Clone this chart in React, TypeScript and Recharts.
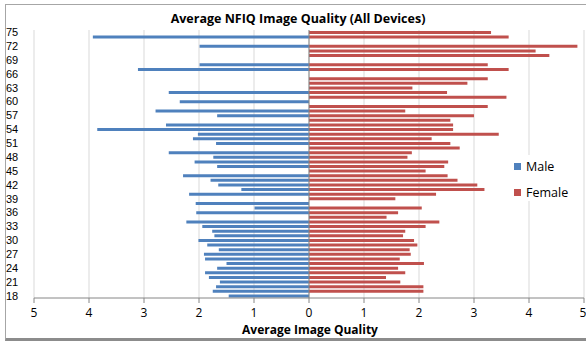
import { BarChart, Bar, XAxis, YAxis, CartesianGrid, ReferenceLine } from "recharts";

// ages 18..75, bottom to top
const AGES = Array.from({ length: 58 }, (_, i) => 18 + i);

const MALE: (number | null)[] = [
  1.46, 1.75, 1.69, 1.62, 1.82, 1.89, 1.67, 1.5, 1.89, 1.91, // 18-27
  1.64, 1.85, 2.01, 1.72, 1.76, 1.94, 2.23, null, 2.05, 0.99, // 28-37
  2.06, null, 2.18, 1.23, 1.65, 1.79, 2.29, null, 1.67, 2.08, // 38-47
  1.74, 2.55, null, 1.69, 2.11, 2.02, 3.85, 2.6, null, 1.67, // 48-57
  2.79, null, 2.35, null, 2.55, null, null, null, null, 3.11, // 58-67
  1.99, null, null, null, 1.99, null, 3.93, null, // 68-75
];

const FEMALE: (number | null)[] = [
  null, 2.08, 2.08, 1.66, 1.4, 1.75, 1.62, 2.09, 1.65, 1.85, // 18-27
  1.83, 1.97, 1.91, 1.71, 1.75, 2.12, 2.37, 1.41, 1.62, 2.05, // 28-37
  null, 1.57, 2.31, 3.19, 3.06, 2.7, 2.52, 2.12, 2.46, 2.53, // 38-47
  1.79, 1.87, 2.74, 2.57, 2.23, 3.45, 2.62, 2.62, 2.57, 3.0, // 48-57
  1.75, 3.25, null, 3.59, 2.51, 1.88, 2.88, 3.25, null, 3.63, // 58-67
  3.25, null, 4.37, 4.12, 4.88, null, 3.63, 3.31, // 68-75
];

const X_TICKS = [-5, -4, -3, -2, -1, 0, 1, 2, 3, 4, 5];

const BLUE = "#4f81bd";
const RED = "#c0504d";
const FONT = "'Open Sans', 'Noto Sans', sans-serif";

const data = AGES.map((age, i) => ({
  age,
  male: MALE[i] == null ? null : -(MALE[i] as number),
  female: FEMALE[i],
}));

function AgeTick(props: any) {
  const { y, payload } = props;
  return (
    <text
      x={6}
      y={y}
      dy="0.35em"
      fontSize={11}
      fill="#000"
      fontFamily="'Liberation Sans', Arial, sans-serif"
      textAnchor="start"
    >
      {payload.value}
    </text>
  );
}

export default function App() {
  return (
    <div
      style={{
        position: "absolute",
        left: 0,
        top: 0,
        width: 586,
        height: 341,
        overflow: "hidden",
        background: "#fff",
        fontFamily: FONT,
      }}
    >
      {/* chart frame */}
      <div
        style={{
          position: "absolute",
          left: 5,
          top: 4,
          width: 590,
          height: 333,
          borderTop: "1px solid #a6a6a6",
          borderLeft: "1px solid #a6a6a6",
          borderBottom: "3px solid #8c8c8c",
        }}
      />
      <BarChart
        width={586}
        height={341}
        data={data}
        layout="vertical"
        stackOffset="sign"
        barSize={3}
        margin={{ top: 30, right: 2, bottom: 0, left: 6 }}
      >
        <CartesianGrid horizontal={false} stroke="#d9d9d9" />
        <XAxis
          type="number"
          domain={[-5, 5]}
          ticks={X_TICKS}
          tickFormatter={(v: number) => String(Math.abs(v))}
          stroke="#868686"
          tickSize={5}
          tickMargin={5}
          height={43}
          tick={{ fontSize: 12, fill: "#000", fontFamily: FONT }}
        />
        <YAxis
          type="category"
          dataKey="age"
          reversed
          interval={2}
          width={28}
          axisLine={false}
          tickLine={false}
          tick={<AgeTick />}
        />
        <ReferenceLine x={0} stroke="#868686" />
        <Bar dataKey="male" name="Male" stackId="a" fill={BLUE} isAnimationActive={false} />
        <Bar dataKey="female" name="Female" stackId="a" fill={RED} isAnimationActive={false} />
      </BarChart>

      <div
        style={{
          position: "absolute",
          left: 0,
          width: 596,
          top: 10,
          textAlign: "center",
          fontSize: 12.5,
          fontWeight: 700,
          color: "#000",
        }}
      >
        Average NFIQ Image Quality (All Devices)
      </div>
      <div
        style={{
          position: "absolute",
          left: 200,
          width: 220,
          top: 321,
          textAlign: "center",
          fontSize: 12,
          fontWeight: 700,
          color: "#000",
        }}
      >
        Average Image Quality
      </div>

      {/* legend */}
      <div
        style={{
          position: "absolute",
          left: 509,
          top: 155,
          width: 68,
          height: 46,
          background: "#fff",
          fontSize: 12.5,
          color: "#000",
        }}
      >
        <div style={{ position: "absolute", left: 5, top: 3, display: "flex", alignItems: "center" }}>
          <span style={{ width: 7, height: 7, background: BLUE, marginRight: 5 }} />
          Male
        </div>
        <div style={{ position: "absolute", left: 5, top: 29, display: "flex", alignItems: "center" }}>
          <span style={{ width: 7, height: 7, background: RED, marginRight: 5 }} />
          Female
        </div>
      </div>
    </div>
  );
}
